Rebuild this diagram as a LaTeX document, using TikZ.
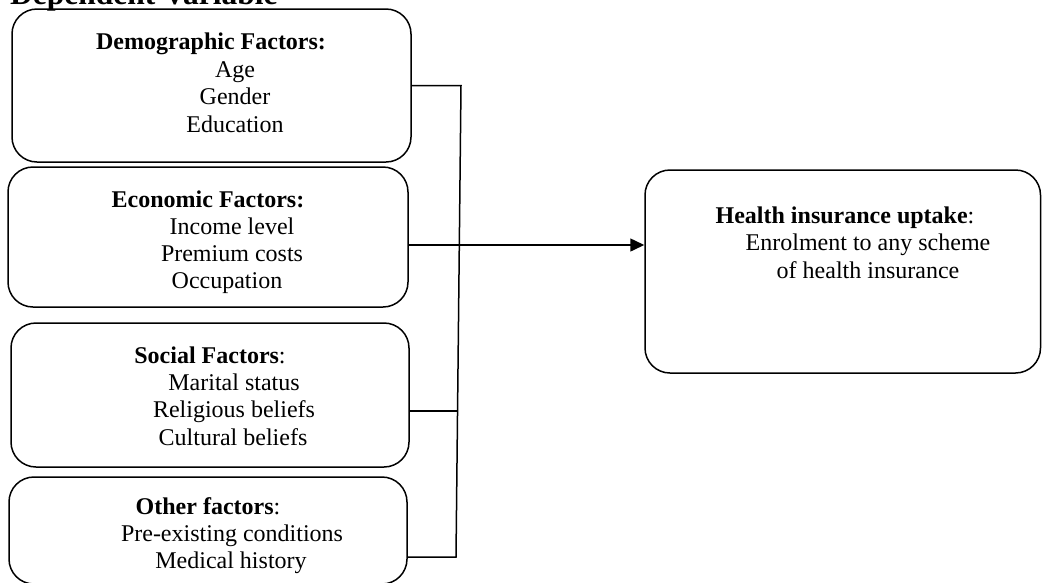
\documentclass[tikz,border=0pt]{standalone}
\usepackage{fontspec}
\setmainfont{Liberation Serif}
\usetikzlibrary{arrows.meta}

\newcommand{\basefont}{\fontsize{24}{27.5}\selectfont}

\tikzset{
  factor/.style={draw, line width=1.5pt, rounded corners=25pt, inner sep=0pt},
  head/.style={font=\basefont\bfseries, anchor=base, inner sep=0pt},
  item/.style={font=\basefont, anchor=base, inner sep=0pt},
  link/.style={line width=1.5pt},
}

\begin{document}
\begin{tikzpicture}[x=1pt, y=-1pt, >={Triangle[length=14pt,width=13pt]}]
    \useasboundingbox (0,0) rectangle (1042,582);

    % Title, cut at the top
    \node[font=\fontsize{31.5}{36}\selectfont\bfseries, anchor=base west, inner sep=0pt] (title) at (10,4) {Dependent Variable};

    % Factor boxes
    \node[factor, minimum width=399pt, minimum height=153pt] (demo) at (211.5,85.5) {};
    \node[factor, minimum width=400pt, minimum height=140pt] (econ) at (208,237) {};
    \node[factor, minimum width=398pt, minimum height=144pt] (social) at (210,395) {};
    \node[factor, minimum width=398pt, minimum height=107pt] (other) at (208,530.5) {};
    \node[factor, minimum width=395.5pt, minimum height=203pt] (uptake) at (842.75,271.5) {};

    % Demographic
    \node[head] (demo-h) at (211,49) {Demographic Factors:};
    \node[item] (demo-1) at (235,77) {Age};
    \node[item] (demo-2) at (235,104) {Gender};
    \node[item] (demo-3) at (235,132) {Education};

    % Economic
    \node[head] (econ-h) at (208,207) {Economic Factors:};
    \node[item] (econ-1) at (232,234) {Income level};
    \node[item] (econ-2) at (232,261) {Premium costs};
    \node[item] (econ-3) at (227,288) {Occupation};

    % Social
    \node[item] (social-h) at (210,363) {\textbf{Social Factors}:};
    \node[item] (social-1) at (234,390) {Marital status};
    \node[item] (social-2) at (234,417) {Religious beliefs};
    \node[item] (social-3) at (233,445) {Cultural beliefs};

    % Other
    \node[item] (other-h) at (208,514) {\textbf{Other factors}:};
    \node[item] (other-1) at (232,541) {Pre-existing conditions};
    \node[item] (other-2) at (231,568) {Medical history};

    % Outcome
    \node[item] (uptake-h) at (845,223) {\textbf{Health insurance uptake}:};
    \node[item] (uptake-1) at (868,250) {Enrolment to any scheme};
    \node[item] (uptake-2) at (868,278) {of health insurance};

    % Connectors
    \coordinate (top) at (461,85.5);
    \coordinate (bot) at (456,557);
    \coordinate (jE) at (459.3,245);
    \coordinate (jS) at (457.5,411);
    \draw[link] (demo.east) -- (top) -- (bot) -- (bot -| other.east);
    \draw[link] (econ.east |- jE) -- (jE);
    \draw[link] (social.east |- jS) -- (jS);
    \draw[link, ->] (jE) -- (uptake.west |- jE);
\end{tikzpicture}
\end{document}
